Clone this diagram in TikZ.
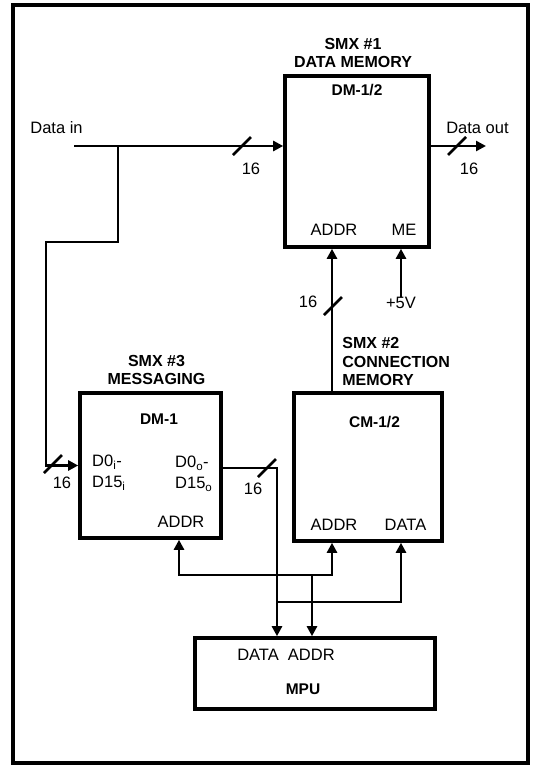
\documentclass[tikz,border=0pt]{standalone}
\usepackage{fontspec}
\setmainfont{Liberation Sans}
\usetikzlibrary{arrows.meta,positioning}
\newcommand{\busslash}[1]{\draw[wire,shift={(#1)}] (-9,9) -- (9,-9);}

\begin{document}
\begin{tikzpicture}[
    x=1pt, y=-1pt,
    chip/.style={rectangle,draw,line width=3.6pt,inner sep=0pt},
    title/.style={font=\fontsize{16}{18.5}\selectfont\bfseries,align=center,inner sep=0pt},
    tag/.style={font=\fontsize{15.5}{18}\selectfont\bfseries,inner sep=0pt},
    pin/.style={font=\fontsize{16.5}{21}\selectfont,inner sep=0pt},
    wire/.style={line width=2.7pt},
    arrow/.style={wire,-{Triangle[length=10pt,width=10pt]}}
  ]
    \useasboundingbox (0,0) rectangle (536,766);
    \draw[line width=4.5pt] (13,5) rectangle (528,763);

    % the four blocks
    \node[chip,minimum width=144pt,minimum height=171pt] (dmtwo) at (357,161.5) {};
    \node[chip,minimum width=148pt,minimum height=148pt] (cm) at (368,467) {};
    \node[chip,minimum width=141pt,minimum height=145pt] (dmone) at (150.5,465.5) {};
    \node[chip,minimum width=240pt,minimum height=71pt] (mpu) at (315,673.5) {};

    \node[title,above=6pt of dmtwo,xshift=-4pt] (smxone) {SMX \#1\\DATA MEMORY};
    \node[title,above=6pt of dmone,xshift=6pt] (smxthree) {SMX \#3\\MESSAGING};
    \node[title,align=left,anchor=south west] (smxtwo) at ([xshift=50pt,yshift=5pt]cm.north west)
      {SMX \#2\\CONNECTION\\MEMORY};

    % texts inside the blocks
    \node[tag] (dmtwoname) at (357,90) {DM-1/2};
    \node[pin] (dmtwoaddr) at (334,230) {ADDR};
    \node[pin] (dmtwome) at (404,230) {ME};
    \node[tag] (cmname) at (374.5,422) {CM-1/2};
    \node[pin] (cmaddr) at (334,525) {ADDR};
    \node[pin] (cmdatatxt) at (405.5,525) {DATA};
    \node[tag] (dmonename) at (159,419) {DM-1};
    \node[pin,align=left,anchor=north west] (dmonein) at (92,455)
      {D0\textsubscript{i}-\\D15\textsubscript{i}};
    \node[pin,align=left,anchor=north west] (dmoneout) at (175,456)
      {D0\textsubscript{o}-\\D15\textsubscript{o}};
    \node[pin] (dmoneaddr) at (181,522) {ADDR};
    \node[pin] (mpupins) at (286,655) {DATA\ \ ADDR};
    \node[tag] (mpuname) at (303,689) {MPU};

    % outside labels
    \node[pin] (dinlabel) at (56.5,128) {Data in};
    \node[pin] (doutlabel) at (477.5,128) {Data out};
    \node[pin] (vcc) at (401,303) {+5V};
    \node[pin] (w1) at (251,169) {16};
    \node[pin] (w2) at (469,169) {16};
    \node[pin] (w3) at (308,302) {16};
    \node[pin] (w4) at (62,483) {16};
    \node[pin] (w5) at (253,489) {16};

    \coordinate (din) at (74,146);
    \coordinate (tap) at (118,146);
    \coordinate (loop) at (46,242);
    \coordinate (dout) at (486,146);
    \coordinate (abus) at (332,0);
    \coordinate (dbus) at (277,468);
    \coordinate (mpuaddr) at (312,575);
    \coordinate (dmaddr) at (179,575);
    \coordinate (djoin) at (277,602);
    \coordinate (cmdata) at (401,602);

    \draw[arrow] (din) -- (din -| dmtwo.west);
    \draw[arrow] (tap) |- (loop) |- (dmone.west);
    \draw[arrow] (dout -| dmtwo.east) -- (dout);
    \draw[arrow] (abus |- cm.north) -- (abus |- dmtwo.south);
    \draw[arrow] (vcc.north) -- (vcc |- dmtwo.south);
    \draw[arrow] (dmone.east |- dbus) -| (dbus |- mpu.north);
    \draw[arrow] (mpuaddr) -- (mpuaddr |- mpu.north);
    \draw[arrow] (mpuaddr) -- (dmaddr) -- (dmaddr |- dmone.south);
    \draw[arrow] (mpuaddr) -- (abus |- mpuaddr) -- (abus |- cm.south);
    \draw[arrow] (djoin) -- (cmdata) -- (cmdata |- cm.south);

    % bus widths
    \busslash{242,146}
    \busslash{457,146}
    \busslash{333,306}
    \busslash{53,464}
    \busslash{267,468}
  \end{tikzpicture}
\end{document}
